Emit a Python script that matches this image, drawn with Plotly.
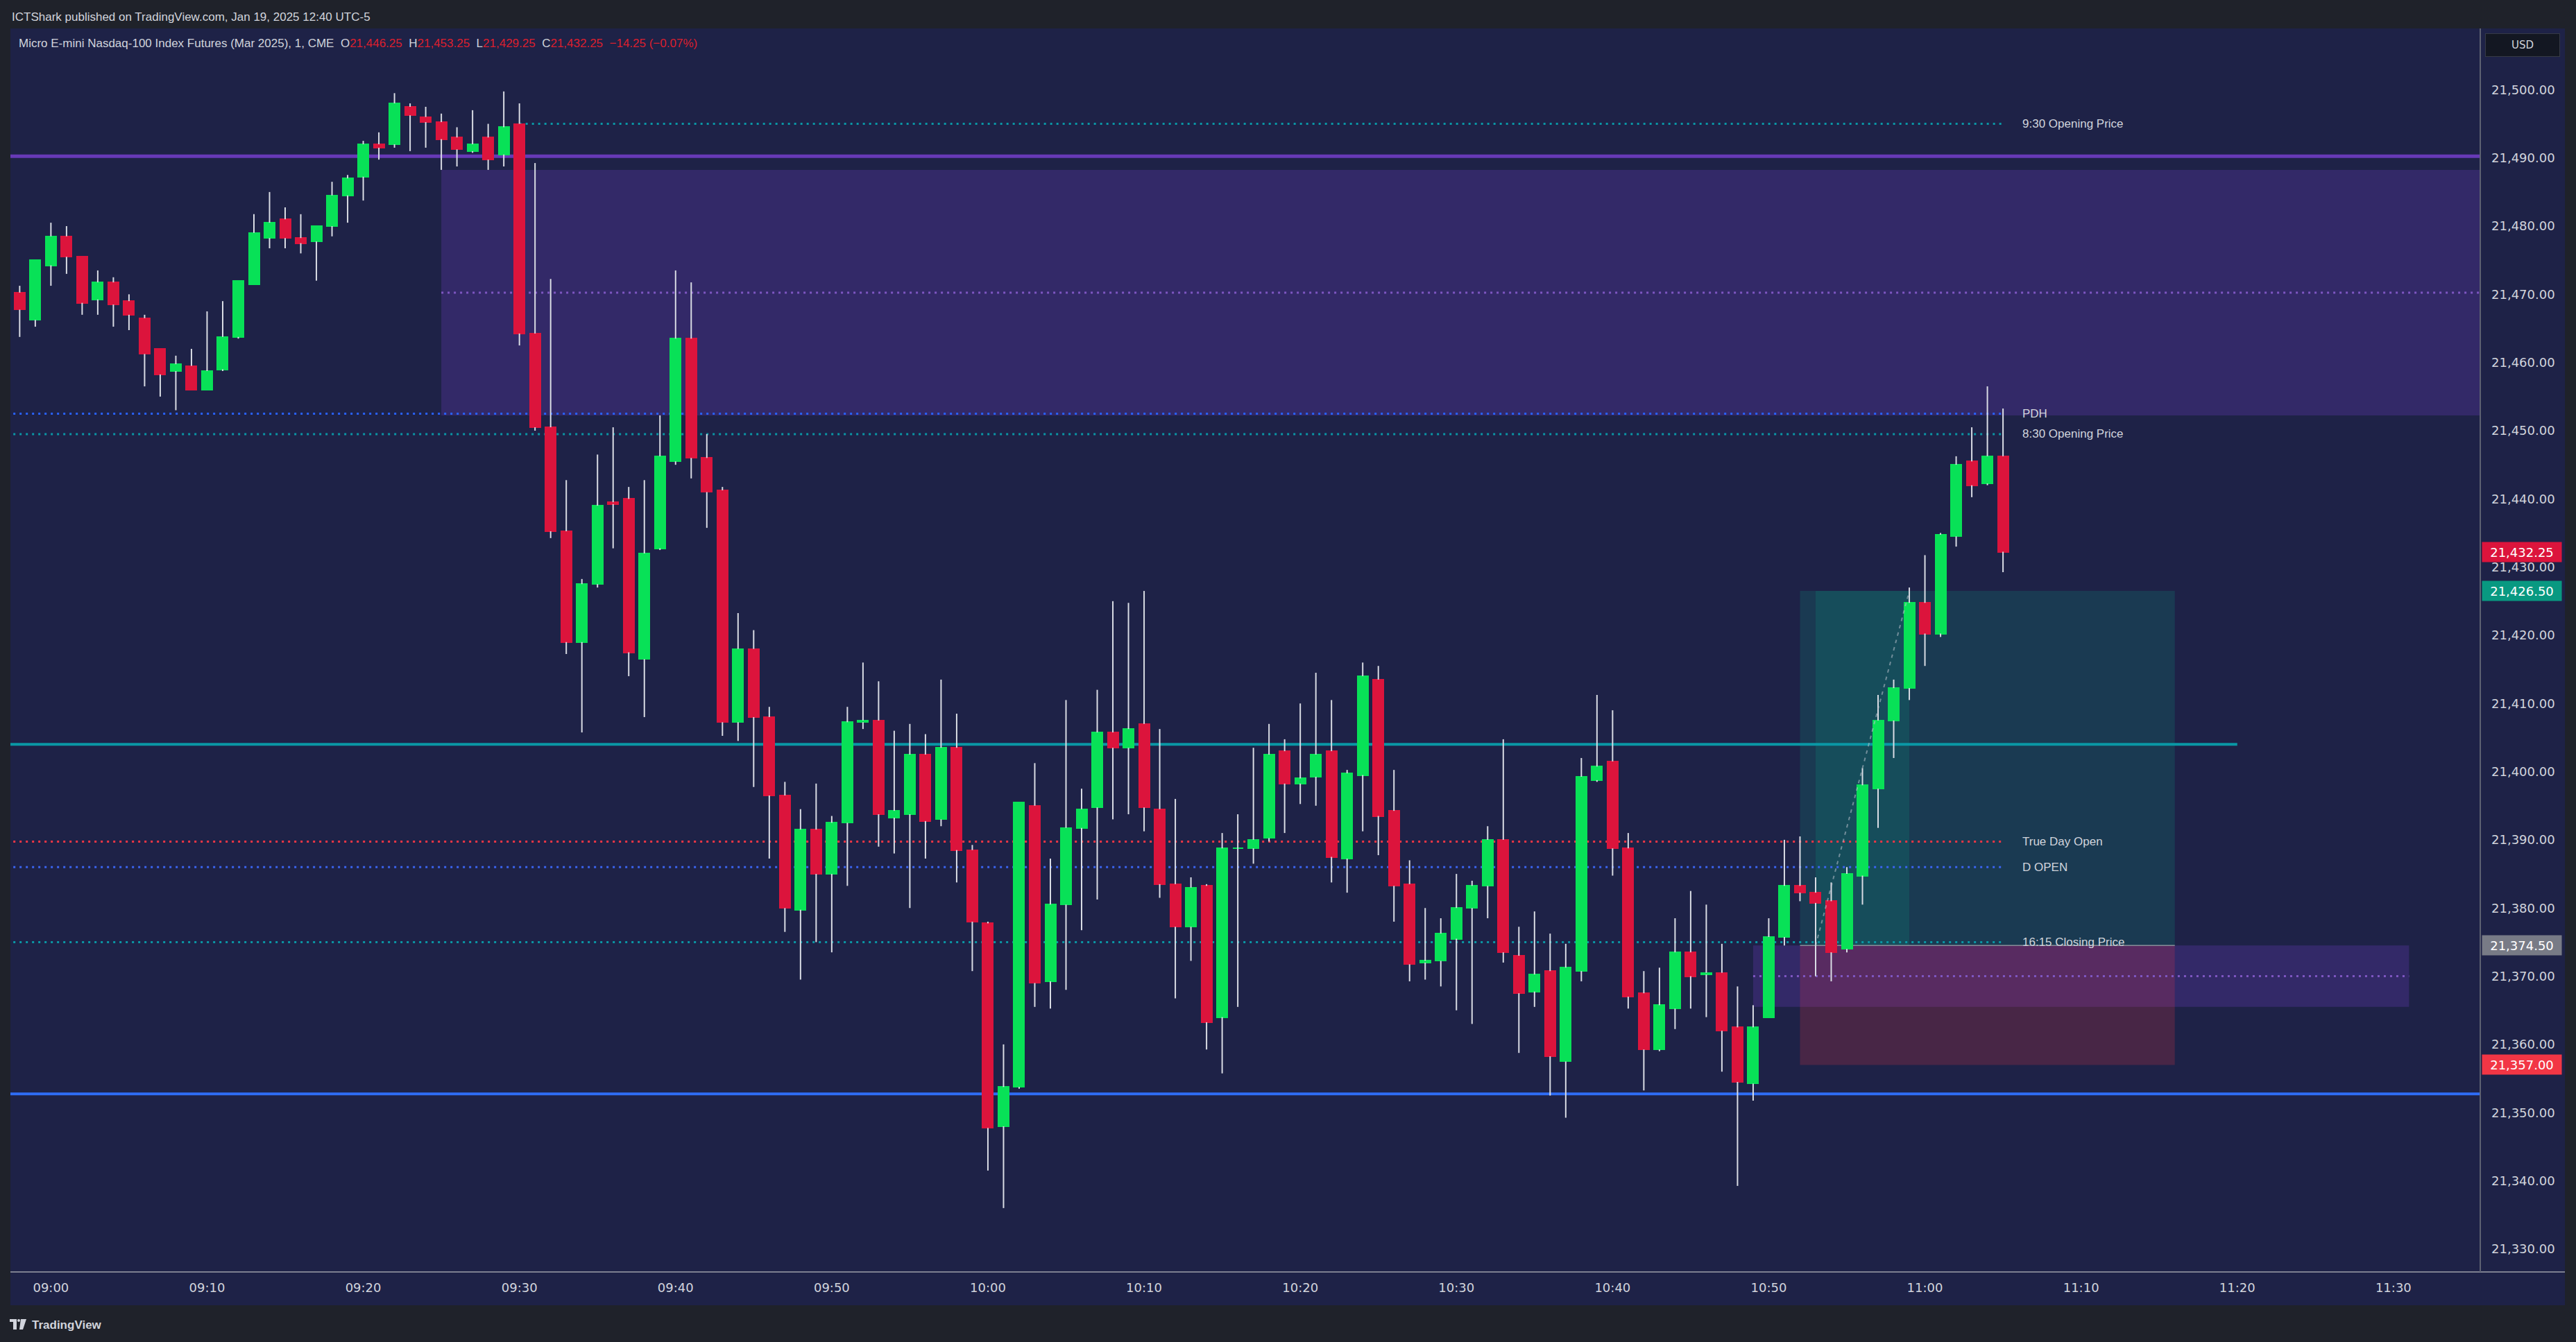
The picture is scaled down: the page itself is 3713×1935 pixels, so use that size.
import numpy as np
import pandas as pd
import plotly.graph_objects as go

# ---------------- data (1-minute bars, MNQ Mar 2025, Jan 17 2025) ----------------
start_time = "2025-01-17 08:58"
opens = [21470.25, 21466.25, 21474.25, 21478.5, 21475.5, 21469.25, 21471.75, 21469.0, 21466.5, 21462.0,
         21458.75, 21459.5, 21456.0, 21459.0, 21463.75, 21471.5, 21478.25, 21481.0, 21478.25, 21477.75,
         21480.0, 21484.5, 21487.25, 21492.0, 21492.0, 21497.5, 21496.0, 21495.25, 21493.0, 21491.0,
         21493.0, 21490.5, 21495.0, 21464.25, 21450.5, 21435.25, 21419.0, 21427.5, 21439.5, 21440.0,
         21416.5, 21432.75, 21445.5, 21463.5, 21446.0, 21441.25, 21407.25, 21418.0, 21408.0, 21396.5,
         21379.75, 21391.5, 21385.0, 21392.5, 21407.25, 21407.5, 21393.25, 21393.75, 21402.5, 21393.0,
         21403.5, 21388.5, 21377.75, 21348.0, 21353.75, 21395.0, 21369.25, 21380.5, 21391.75, 21394.75,
         21405.75, 21403.5, 21407.0, 21394.5, 21383.5, 21377.25, 21383.25, 21364.0, 21388.75, 21388.75,
         21390.25, 21403.0, 21398.25, 21399.25, 21403.0, 21387.25, 21399.5, 21413.5, 21394.25, 21383.5,
         21372.0, 21372.25, 21375.5, 21380.0, 21383.25, 21390.0, 21373.0, 21367.75, 21370.75, 21357.5,
         21370.75, 21398.75, 21401.5, 21388.75, 21367.5, 21359.25, 21365.25, 21373.5, 21370.25, 21370.5,
         21362.5, 21354.25, 21364.0, 21375.75, 21383.25, 21382.25, 21381.0, 21374.0, 21384.75, 21397.5,
         21407.5, 21412.25, 21424.75, 21420.25, 21434.5, 21445.5, 21442.25, 21446.25]
highs = [21471.25, 21475.0, 21480.5, 21480.0, 21475.5, 21473.5, 21472.5, 21470.0, 21467.0, 21462.0,
         21461.0, 21462.0, 21467.5, 21469.0, 21472.0, 21481.75, 21485.0, 21482.75, 21481.75, 21480.0,
         21486.5, 21487.5, 21492.5, 21493.75, 21499.5, 21498.0, 21497.5, 21496.5, 21494.5, 21497.0,
         21495.0, 21499.75, 21498.0, 21489.25, 21472.25, 21442.75, 21428.25, 21446.5, 21450.5, 21441.75,
         21442.75, 21452.25, 21473.5, 21471.75, 21449.5, 21441.75, 21423.25, 21420.75, 21409.5, 21398.5,
         21394.5, 21398.25, 21393.5, 21409.5, 21416.0, 21413.25, 21406.0, 21407.0, 21405.5, 21413.5,
         21408.5, 21389.25, 21378.0, 21360.0, 21395.5, 21401.25, 21387.25, 21410.5, 21397.5, 21412.0,
         21425.0, 21424.75, 21426.5, 21406.25, 21396.0, 21384.5, 21383.5, 21391.0, 21393.75, 21403.5,
         21407.0, 21404.75, 21410.0, 21414.5, 21410.5, 21400.25, 21416.0, 21415.5, 21400.25, 21387.0,
         21380.0, 21378.5, 21385.0, 21384.0, 21392.0, 21404.75, 21377.25, 21379.5, 21376.25, 21374.75,
         21402.0, 21411.25, 21409.0, 21391.0, 21370.75, 21371.25, 21378.5, 21382.5, 21380.5, 21374.75,
         21368.5, 21365.75, 21378.5, 21390.0, 21390.5, 21384.5, 21383.75, 21386.0, 21400.5, 21411.25,
         21413.5, 21427.0, 21431.75, 21435.0, 21446.25, 21450.5, 21456.5, 21453.25]
lows = [21463.75, 21465.25, 21471.25, 21473.0, 21467.0, 21467.0, 21465.25, 21464.75, 21456.5, 21455.0,
        21453.0, 21456.0, 21456.0, 21458.75, 21463.5, 21471.5, 21476.75, 21476.75, 21476.0, 21472.0,
        21478.5, 21480.5, 21483.75, 21489.75, 21491.5, 21491.0, 21491.5, 21488.25, 21488.75, 21490.75,
        21488.25, 21488.75, 21462.5, 21450.0, 21434.25, 21417.25, 21405.75, 21427.0, 21432.75, 21414.0,
        21408.0, 21432.5, 21445.0, 21443.0, 21435.75, 21405.25, 21404.5, 21397.75, 21387.25, 21376.5,
        21369.5, 21375.0, 21373.5, 21383.25, 21406.25, 21389.0, 21388.0, 21380.0, 21387.25, 21392.0,
        21383.75, 21370.75, 21341.5, 21336.0, 21353.5, 21365.5, 21365.25, 21368.0, 21376.75, 21381.25,
        21393.0, 21393.75, 21391.25, 21381.5, 21366.75, 21372.25, 21359.25, 21355.75, 21365.5, 21386.5,
        21389.75, 21391.0, 21395.25, 21395.0, 21383.75, 21382.25, 21391.25, 21387.75, 21378.0, 21369.25,
        21369.5, 21368.5, 21365.0, 21363.0, 21378.5, 21372.0, 21358.75, 21365.5, 21352.5, 21349.25,
        21369.25, 21398.5, 21384.75, 21365.25, 21353.25, 21359.0, 21362.25, 21365.25, 21364.0, 21356.0,
        21339.25, 21351.75, 21364.0, 21374.5, 21381.0, 21370.0, 21369.25, 21373.5, 21380.5, 21391.75,
        21402.0, 21410.5, 21415.5, 21419.75, 21433.0, 21440.25, 21442.0, 21429.25]
closes = [21467.75, 21475.0, 21478.5, 21475.5, 21468.75, 21471.75, 21468.5, 21467.0, 21461.25, 21458.25,
          21459.75, 21456.0, 21458.75, 21463.75, 21472.0, 21479.0, 21480.5, 21478.25, 21477.5, 21480.0,
          21484.5, 21487.0, 21492.0, 21491.5, 21498.0, 21496.25, 21495.25, 21492.75, 21491.25, 21492.0,
          21489.75, 21494.5, 21464.25, 21450.5, 21435.25, 21419.0, 21427.5, 21439.0, 21439.25, 21417.5,
          21432.0, 21446.25, 21463.5, 21446.0, 21441.0, 21407.25, 21418.0, 21408.0, 21396.5, 21380.0,
          21391.5, 21385.0, 21392.5, 21407.25, 21407.5, 21393.75, 21394.25, 21402.5, 21392.75, 21403.5,
          21388.5, 21378.0, 21347.75, 21353.75, 21395.5, 21369.0, 21380.5, 21391.75, 21394.5, 21405.75,
          21403.5, 21406.25, 21394.75, 21383.5, 21377.25, 21383.0, 21363.25, 21388.75, 21388.75, 21390.0,
          21402.5, 21398.25, 21399.0, 21402.5, 21387.5, 21399.75, 21414.0, 21393.5, 21383.25, 21371.75,
          21372.25, 21376.25, 21380.0, 21383.25, 21390.0, 21373.5, 21367.5, 21370.25, 21358.25, 21371.25,
          21399.25, 21400.75, 21388.75, 21367.0, 21359.25, 21365.75, 21373.5, 21370.0, 21370.5, 21362.0,
          21354.5, 21362.5, 21375.75, 21383.25, 21382.25, 21380.75, 21373.5, 21385.0, 21398.0, 21407.5,
          21412.25, 21424.75, 21420.25, 21434.75, 21445.0, 21442.0, 21446.25, 21432.25]

# header change figures (as printed in the legend)
change_abs = "\u221214.25"
change_pct = "(\u22120.07%)"

# key levels
opening_930 = 21495.0
ote_line = 21490.25
upper_box = (21452.25, 21488.25)
upper_box_mid = 21470.25
pdh = 21452.5
opening_830 = 21449.5
teal_level = 21404.0
true_day_open = 21389.75
d_open = 21386.0
closing_1615 = 21375.0
lower_box = (21365.5, 21374.5)
lower_box_mid = 21370.0
blue_level = 21352.75
entry_price = 21374.5
target_price = 21426.5
stop_price = 21357.0
last_price = 21432.25

level_labels = ["9:30 Opening Price", "PDH", "8:30 Opening Price",
                "True Day Open", "D OPEN", "16:15 Closing Price"]
level_values = [opening_930, pdh, opening_830, true_day_open, d_open, closing_1615]

y_ticks = list(range(21330, 21501, 10))

# ---------------- styling ----------------
BG = "#1f222a"
NAVY = "#1e2247"
TXT = "#d1d4dc"
GREEN = "#08e157"
RED = "#dc143c"
PURPLE = "#673ab7"
TEAL = "#0a97a5"
BLUE = "#2962ff"
D = "2025-01-17 "

W, H = 3713, 1935
L_M, R_M, T_M, B_M = 15, 138, 41, 101
PW = W - L_M - R_M
PH = H - T_M - B_M


def pxx(x):
    return (x - L_M) / PW


def pxy(y):
    return (H - B_M - y) / PH


times = pd.date_range(start_time, periods=len(opens), freq="1min")
o = np.array(opens)
c = np.array(closes)
h = np.array(highs)
lo = np.array(lows)
body_lo = np.minimum(o, c)
body_hi = np.maximum(o, c)
colors = [GREEN if cc >= oo else RED for oo, cc in zip(o, c)]

wx, wy = [], []
for t, hh, ll, bl, bh in zip(times, h, lo, body_lo, body_hi):
    if hh > bh:
        wx += [t, t, None]
        wy += [bh, hh, None]
    if ll < bl:
        wx += [t, t, None]
        wy += [ll, bl, None]

fig = go.Figure()
fig.add_trace(go.Scatter(x=wx, y=wy, mode="lines", line=dict(color="#d9dce4", width=2),
                         hoverinfo="skip", connectgaps=False))
fig.add_trace(go.Bar(x=times, y=body_hi - body_lo, base=body_lo, width=40000,
                     marker=dict(color=colors, line=dict(color=colors, width=2)),
                     hoverinfo="skip"))

shapes = []
FL, FR = D + "08:40", D + "11:50"


def hline(y, x0, x1, color, width, dash="solid", layer="below"):
    shapes.append(dict(type="line", xref="x", yref="y", x0=x0, x1=x1, y0=y, y1=y,
                       line=dict(color=color, width=width, dash=dash), layer=layer))


def rect(x0, x1, y0, y1, fill, layer="below"):
    shapes.append(dict(type="rect", xref="x", yref="y", x0=x0, x1=x1, y0=y0, y1=y1,
                       fillcolor=fill, line=dict(width=0), layer=layer))


# chart pane background (covers axis areas)
shapes.append(dict(type="rect", xref="paper", yref="paper", x0=0, x1=pxx(3697),
                   y0=pxy(1882), y1=1, fillcolor=NAVY, line=dict(width=0), layer="below"))

# boxes
rect(D + "09:25", FR, upper_box[0], upper_box[1], "rgba(103,58,183,0.30)")
rect(D + "10:49", D + "11:31", lower_box[0], lower_box[1], "rgba(103,58,183,0.30)")
rect(D + "10:52", D + "11:16", entry_price, target_price, "rgba(8,153,129,0.20)")
rect(D + "10:53", D + "10:59", entry_price, target_price, "rgba(8,153,129,0.20)")
rect(D + "10:52", D + "11:16", stop_price, entry_price, "rgba(242,54,69,0.20)")

# lines
DOT = "3px,6px"
hline(ote_line, FL, FR, PURPLE, 5)
hline(upper_box_mid, D + "09:25", FR, "#7e57c2", 3, DOT)
hline(lower_box_mid, D + "10:49", D + "11:31", "#7e57c2", 3, DOT)
hline(opening_930, D + "09:30", D + "11:05", TEAL, 3, DOT)
hline(pdh, FL, D + "11:05", BLUE, 3, DOT)
hline(opening_830, FL, D + "11:05", TEAL, 3, DOT)
hline(true_day_open, FL, D + "11:05", "#f23645", 3, DOT)
hline(d_open, FL, D + "11:05", "#3b64f0", 3, DOT)
hline(closing_1615, FL, D + "11:05", TEAL, 3, DOT)
hline(teal_level, FL, D + "11:20", TEAL, 4)
hline(blue_level, FL, FR, "#2f6df6", 4)
hline(entry_price, D + "10:52", D + "11:16", "#8a8d99", 1.5)
shapes.append(dict(type="line", xref="x", yref="y", x0=D + "10:53", x1=D + "10:59",
                   y0=entry_price, y1=target_price,
                   line=dict(color="rgba(190,195,205,0.55)", width=2, dash="5px,6px"), layer="above"))

# axis separator lines
shapes.append(dict(type="line", xref="paper", yref="paper", x0=0, x1=pxx(3697), y0=0, y1=0,
                   line=dict(color="#7d8090", width=2), layer="above"))
shapes.append(dict(type="line", xref="paper", yref="paper", x0=1, x1=1, y0=0, y1=1,
                   line=dict(color="#5d6172", width=2), layer="above"))
# TradingView logo glyph
shapes.append(dict(type="path", xref="paper", yref="paper",
                   path="M {} {} L {} {} L {} {} L {} {} L {} {} L {} {} Z".format(
                       pxx(14), pxy(1902), pxx(24), pxy(1902), pxx(24), pxy(1917),
                       pxx(19), pxy(1917), pxx(19), pxy(1906), pxx(14), pxy(1906)),
                   fillcolor=TXT, line=dict(width=0)))
shapes.append(dict(type="circle", xref="paper", yref="paper", x0=pxx(25), x1=pxx(29),
                   y0=pxy(1906), y1=pxy(1902), fillcolor=TXT, line=dict(width=0)))
shapes.append(dict(type="path", xref="paper", yref="paper",
                   path="M {} {} L {} {} L {} {} L {} {} Z".format(
                       pxx(30), pxy(1902), pxx(38), pxy(1902), pxx(33), pxy(1917), pxx(28), pxy(1917)),
                   fillcolor=TXT, line=dict(width=0)))

annotations = []
for lab, val in zip(level_labels, level_values):
    annotations.append(dict(x=D + "11:06:09", y=val, xref="x", yref="y", text=lab,
                            showarrow=False, xanchor="left", yanchor="middle",
                            font=dict(family="Liberation Sans", size=17, color=TXT)))

annotations.append(dict(x=0, y=pxy(24), xref="paper", yref="paper", xanchor="left", yanchor="middle",
                        text="ICTShark published on TradingView.com, Jan 19, 2025 12:40 UTC-5",
                        showarrow=False, font=dict(family="Liberation Sans", size=17, color=TXT)))
RV = "#dc1f2e"
hdr = ("Micro E-mini Nasdaq-100 Index Futures (Mar 2025), 1, CME  "
       "O<span style='color:{r}'>{o}</span>  H<span style='color:{r}'>{h}</span>  "
       "L<span style='color:{r}'>{l}</span>  C<span style='color:{r}'>{c}</span>  "
       "<span style='color:{r}'>{chg} {pct}</span>").format(
    r=RV, o=f"{opens[-1]:,.2f}", h=f"{highs[-1]:,.2f}", l=f"{lows[-1]:,.2f}",
    c=f"{closes[-1]:,.2f}", chg=change_abs, pct=change_pct)
annotations.append(dict(x=pxx(25), y=pxy(62), xref="paper", yref="paper", xanchor="left", yanchor="middle",
                        text=hdr, showarrow=False, font=dict(family="Liberation Sans", size=17, color=TXT)))
annotations.append(dict(x=pxx(44), y=pxy(1910), xref="paper", yref="paper", xanchor="left", yanchor="middle",
                        text="<b>TradingView</b>", showarrow=False,
                        font=dict(family="Liberation Sans", size=17, color=TXT)))
annotations.append(dict(x=pxx(3636), y=pxy(65), xref="paper", yref="paper", xanchor="center",
                        yanchor="middle", text="USD", showarrow=False, width=104, height=30,
                        bgcolor="#131722", bordercolor="#363a45", borderwidth=1,
                        font=dict(family="DejaVu Sans", size=15, color=TXT)))

tag_prices = [last_price, target_price, entry_price, stop_price]
tag_colors = ["#dc143c", "#089981", "#787b86", "#f23645"]
for p, col in zip(tag_prices, tag_colors):
    annotations.append(dict(x=pxx(3577), y=p, xref="paper", yref="y", xanchor="left", yanchor="middle",
                            text=f"{p:,.2f}", showarrow=False, width=112, height=26, borderpad=1,
                            bgcolor=col, align="center",
                            font=dict(family="DejaVu Sans", size=18, color="#ffffff")))

fig.update_layout(
    width=W, height=H,
    margin=dict(l=L_M, r=R_M, t=T_M, b=B_M, pad=0),
    paper_bgcolor=BG, plot_bgcolor=NAVY,
    showlegend=False, barmode="overlay", bargap=0,
    shapes=shapes, annotations=annotations,
    xaxis=dict(type="date", range=[D + "08:57:24.4", D + "11:35:33.6"],
               showgrid=False, zeroline=False, showline=False, ticks="",
               tickformat="%H:%M", dtick=600000, tick0=D + "09:00",
               tickfont=dict(family="DejaVu Sans", size=18, color=TXT),
               ticklabelstandoff=10, fixedrange=True),
    yaxis=dict(side="right", range=[21326.63, 21508.99], showgrid=False, zeroline=False,
               showline=False, ticks="", tickvals=y_ticks,
               ticktext=[f"{v:,.2f}" for v in y_ticks],
               tickfont=dict(family="DejaVu Sans", size=18, color=TXT),
               ticklabelstandoff=15, fixedrange=True),
)

fig.write_html("out.html", config={"displayModeBar": False},
               post_script="document.body.style.margin='0px';document.body.style.overflow='hidden';"
                           "document.body.style.background='#1f222a';")
